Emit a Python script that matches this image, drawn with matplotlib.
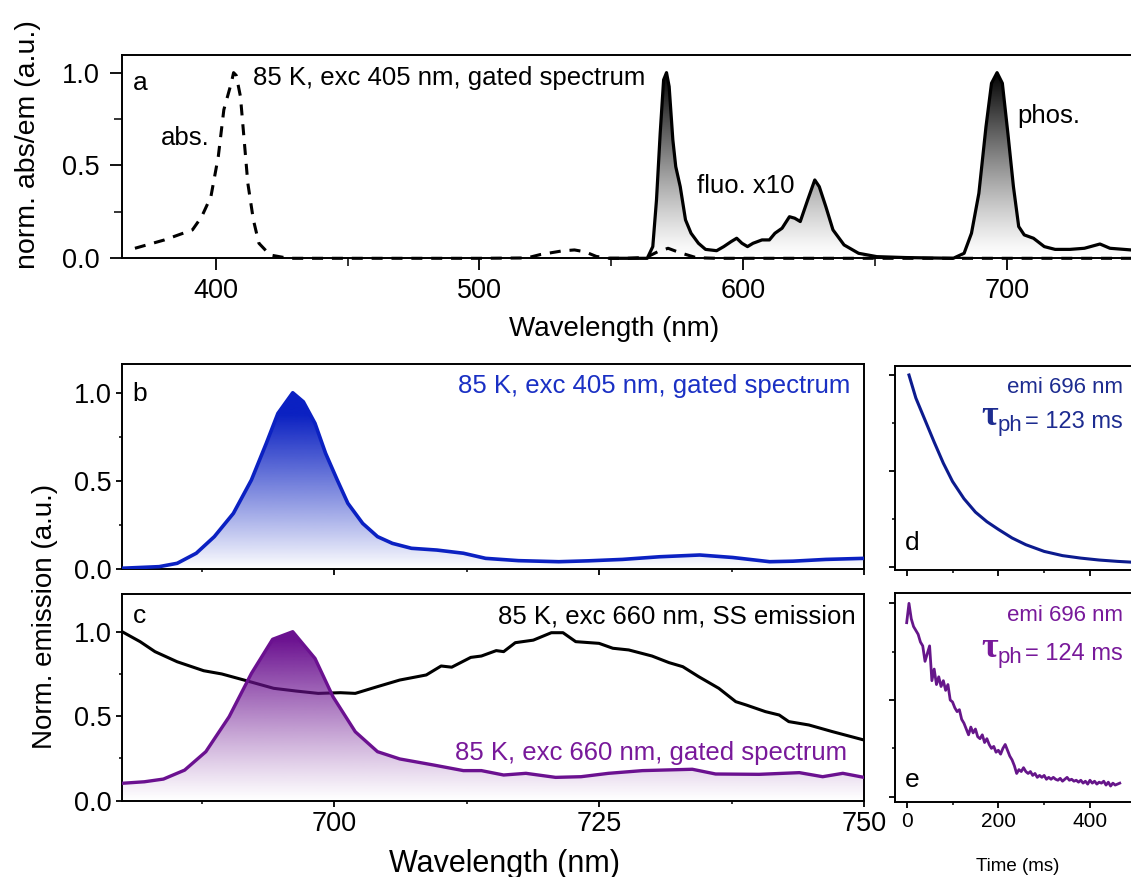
import numpy as np
import matplotlib
matplotlib.use("Agg")
import matplotlib.pyplot as plt
from matplotlib.colors import to_rgb
from matplotlib.patches import Polygon
from matplotlib.ticker import FixedLocator

# ---------------- data ----------------
# panel a : absorption (dashed) and gated emission (solid), wavelength in nm
abs_nm = [369.4, 380.6, 391.2, 394.7, 398.2, 401.0, 403.1, 405.9, 406.8, 407.8,
          409.4, 410.8, 412.2, 414.3, 416.4, 420.6, 427.6, 450.0, 500.0, 518.0,
          523.0, 531.4, 536.0, 540.0, 544.3, 549.1, 556.0, 563.3, 567.5, 571.5,
          576.0, 582.3, 590.0, 650.0, 700.0, 750.0]
abs_val = [0.054, 0.099, 0.153, 0.224, 0.332, 0.548, 0.80, 0.943, 1.0, 0.985,
           0.871, 0.638, 0.404, 0.207, 0.081, 0.018, 0.0, 0.0, 0.0, 0.002,
           0.02, 0.04, 0.045, 0.035, 0.01, 0.0, 0.0, 0.005, 0.035, 0.054,
           0.03, 0.003, 0.0, 0.0, 0.0, 0.0]

em_nm = [549.8, 563.6, 565.7, 567.1, 568.5, 569.8, 570.9, 571.9, 573.3, 574.4,
         576.1, 578.1, 580.2, 583.0, 585.7, 589.9, 592.6, 595.4, 597.5, 599.5,
         601.6, 603.7, 607.1, 609.9, 612.0, 614.7, 617.5, 619.5, 621.6, 624.4,
         627.1, 628.8, 631.3, 634.0, 638.2, 643.7, 650.6, 661.6, 679.6, 683.7,
         686.5, 689.3, 692.0, 694.1, 696.2, 698.2, 700.3, 702.4, 704.4, 706.5,
         710.0, 714.1, 718.2, 723.8, 729.3, 735.2, 739.0, 747.0, 750.0]
em_val = [0.0, 0.0, 0.063, 0.314, 0.673, 0.961, 1.0, 0.925, 0.638, 0.494,
          0.386, 0.207, 0.135, 0.081, 0.048, 0.041, 0.063, 0.09, 0.108, 0.081,
          0.063, 0.081, 0.099, 0.099, 0.135, 0.162, 0.224, 0.216, 0.198, 0.314,
          0.422, 0.386, 0.278, 0.153, 0.072, 0.027, 0.009, 0.004, 0.0, 0.027,
          0.135, 0.35, 0.709, 0.943, 1.0, 0.943, 0.673, 0.386, 0.171, 0.126,
          0.108, 0.063, 0.048, 0.048, 0.054, 0.077, 0.054, 0.045, 0.048]

# panel b : 85 K, exc 405 nm, gated spectrum
b_nm = [680.0, 683.5, 685.2, 687.0, 688.7, 690.5, 692.2, 693.6, 694.7, 696.1,
        697.1, 698.2, 699.2, 700.3, 701.3, 702.7, 704.1, 705.5, 707.3, 709.7,
        712.2, 714.3, 717.4, 721.2, 724.0, 727.2, 730.7, 734.5, 737.6, 741.1,
        743.3, 746.4, 750.0]
b_val = [0.006, 0.015, 0.034, 0.091, 0.185, 0.317, 0.506, 0.713, 0.883, 1.0,
         0.949, 0.827, 0.657, 0.506, 0.374, 0.26, 0.185, 0.147, 0.119, 0.109,
         0.091, 0.062, 0.049, 0.043, 0.048, 0.056, 0.071, 0.081, 0.067, 0.043,
         0.046, 0.056, 0.062]

# panel c : gated spectrum (purple) and steady-state emission (black)
cg_nm = [680.0, 682.1, 683.9, 685.9, 687.9, 690.1, 692.2, 694.2, 696.1, 698.2,
         699.9, 702.0, 704.1, 706.2, 709.4, 712.2, 713.9, 716.0, 718.1, 720.9,
         723.3, 725.9, 729.1, 733.8, 736.0, 740.1, 743.9, 746.1, 748.0, 750.0]
cg_val = [0.103, 0.112, 0.128, 0.181, 0.29, 0.497, 0.753, 0.955, 1.0, 0.842,
          0.615, 0.408, 0.29, 0.247, 0.211, 0.178, 0.178, 0.152, 0.162, 0.138,
          0.142, 0.162, 0.178, 0.186, 0.158, 0.156, 0.166, 0.142, 0.162, 0.138]

cs_nm = [680.0, 681.7, 683.1, 685.2, 687.7, 689.4, 691.5, 694.3, 696.4, 698.5,
         700.6, 702.0, 704.1, 706.2, 708.7, 710.1, 711.1, 712.9, 713.9, 715.3,
         716.0, 717.1, 718.8, 720.5, 721.6, 722.8, 725.0, 726.3, 727.8, 730.0,
         731.6, 732.9, 734.4, 736.3, 737.9, 738.9, 740.7, 742.0, 742.9, 744.8,
         747.0, 750.0]
cs_val = [1.0, 0.941, 0.882, 0.822, 0.769, 0.75, 0.714, 0.665, 0.649, 0.635,
          0.639, 0.635, 0.675, 0.714, 0.744, 0.797, 0.79, 0.848, 0.856, 0.888,
          0.882, 0.935, 0.95, 0.994, 0.994, 0.941, 0.931, 0.902, 0.892, 0.856,
          0.817, 0.793, 0.734, 0.665, 0.586, 0.566, 0.527, 0.507, 0.468, 0.448,
          0.409, 0.359]

# panel d : decay, emi 696 nm (exc 405)
d_t = [5, 20, 40, 60, 80, 100, 125, 150, 175, 200, 230, 260, 300, 340, 380,
       420, 460, 490]
d_val = [1.0, 0.88, 0.765, 0.65, 0.54, 0.445, 0.355, 0.285, 0.235, 0.195,
         0.15, 0.115, 0.08, 0.058, 0.045, 0.035, 0.028, 0.024]

# panel e : decay, emi 696 nm (exc 660), sampled every 5 ms from 0 ms
e_val = [0.90, 1.00, 0.92, 0.88, 0.86, 0.84, 0.80, 0.78, 0.70, 0.74,
         0.78, 0.60, 0.66, 0.58, 0.62, 0.57, 0.60, 0.55, 0.58, 0.50,
         0.49, 0.46, 0.44, 0.45, 0.40, 0.38, 0.35, 0.32, 0.36, 0.33,
         0.35, 0.31, 0.30, 0.32, 0.28, 0.30, 0.27, 0.25, 0.26, 0.23,
         0.24, 0.22, 0.25, 0.27, 0.24, 0.21, 0.19, 0.16, 0.12, 0.14,
         0.13, 0.15, 0.13, 0.12, 0.13, 0.11, 0.12, 0.10, 0.11, 0.10,
         0.11, 0.09, 0.10, 0.09, 0.10, 0.09, 0.085, 0.095, 0.08, 0.09,
         0.10, 0.085, 0.09, 0.08, 0.085, 0.075, 0.085, 0.07, 0.08, 0.065,
         0.085, 0.07, 0.08, 0.065, 0.075, 0.07, 0.08, 0.06, 0.075, 0.055,
         0.07, 0.06, 0.065, 0.07]
e_t = np.arange(len(e_val)) * 5.0

# ---------------- style ----------------
BLUE = '#0b21c2'
BLUE_T = '#1a30c4'
NAVY = '#0c1b8e'
NAVY_T = '#1d2c90'
PURPLE = '#6b1190'
PURPLE_E = '#66168a'
PURPLE_T = '#78199a'

FS_ANN = 18.5
FS_TICK = 19.5

plt.rcParams['font.family'] = ['Liberation Sans', 'DejaVu Sans']
plt.rcParams['axes.linewidth'] = 1.4

W, H = 1131, 877
fig = plt.figure(figsize=(W / 100, H / 100), dpi=100)


def add_ax(left, top, right, bottom):
    return fig.add_axes([left / W, 1 - bottom / H, (right - left) / W, (bottom - top) / H])


def gradient_fill(ax, x, y, color, gamma=1.0, scale=1.0, zorder=1):
    x = np.asarray(x, float)
    y = np.asarray(y, float)
    verts = np.vstack([[[x[0], 0.0]], np.column_stack([x, y]), [[x[-1], 0.0]]])
    poly = Polygon(verts, closed=True, facecolor='none', edgecolor='none',
                   transform=ax.transData)
    ax.add_patch(poly)
    v = np.linspace(0, 1, 512)
    rgba = np.zeros((512, 1, 4))
    rgba[..., :3] = to_rgb(color)
    rgba[:, 0, 3] = np.clip(v * scale, 0, 1) ** gamma
    im = ax.imshow(rgba, extent=[x[0], x[-1], 0, 1], origin='lower', aspect='auto',
                   interpolation='bilinear', zorder=zorder)
    im.set_clip_path(poly)


def style_ticks(ax, major_len, minor_len, labelsize, pad):
    ax.tick_params(which='major', direction='out', length=major_len, width=1.3,
                   labelsize=labelsize, pad=pad)
    ax.tick_params(which='minor', direction='out', length=minor_len, width=1.1)


def tau_label(ax, x, y, value, color):
    t_eq = ax.text(x, y, '= %s ms' % value, ha='right', va='baseline',
                   fontsize=17, color=color)
    t_ph = ax.annotate('ph', xy=(0, 0), xycoords=t_eq, xytext=(-2.0, -2.0),
                       textcoords='offset points', ha='right', va='bottom',
                       fontsize=16, color=color)
    ax.annotate('τ', xy=(0, 0), xycoords=t_ph, xytext=(0, 7.8),
                textcoords='offset points', ha='right', va='baseline',
                fontsize=26, fontweight='bold', color=color,
                family=['Liberation Serif', 'DejaVu Serif'])


# ---------------- panel a ----------------
axA = add_ax(122, 55, 1139, 258.3)
gradient_fill(axA, em_nm, em_val, 'black', gamma=1.2)
axA.plot(abs_nm, abs_val, color='black', lw=2.2, ls=(0, (3.6, 2.9)), zorder=3, clip_on=False)
axA.plot(em_nm, em_val, color='black', lw=2.3, zorder=4, clip_on=False)
axA.set_xlim(364.5, 750)
axA.set_ylim(0, 1.095)
axA.set_xticks([400, 500, 600, 700])
axA.xaxis.set_minor_locator(FixedLocator([450, 550, 650]))
axA.set_yticks([0, 0.5, 1.0])
axA.set_yticklabels(['0.0', '0.5', '1.0'])
axA.yaxis.set_minor_locator(FixedLocator([0.25, 0.75]))
style_ticks(axA, 8.5, 5.5, FS_TICK, 5.5)
axA.tick_params(axis='y', pad=7.5)
axA.set_xlabel('Wavelength (nm)', fontsize=20, va='baseline')
axA.xaxis.set_label_coords(0.484, -0.382)
axA.set_ylabel('norm. abs/em (a.u.)', fontsize=20.5, va='center', ha='center',
               rotation=90, rotation_mode='default')
axA.yaxis.set_label_coords((27.7 - 122) / 1017, (258.3 - 145) / 203.3)
axA.text(368.6, 0.907, 'a', fontsize=19, ha='left', va='baseline')
axA.text(414.3, 0.934, '85 K, exc 405 nm, gated spectrum', fontsize=FS_ANN,
         ha='left', va='baseline')
axA.text(379.3, 0.61, 'abs.', fontsize=FS_ANN, ha='left', va='baseline')
axA.text(582.4, 0.35, 'fluo. x10', fontsize=FS_ANN, ha='left', va='baseline')
axA.text(703.8, 0.728, 'phos.', fontsize=FS_ANN, ha='left', va='baseline')

# ---------------- panel b ----------------
axB = add_ax(122.1, 364, 864, 569.3)
gradient_fill(axB, b_nm, b_val, BLUE, gamma=0.95, scale=1.15)
axB.plot(b_nm, b_val, color=BLUE, lw=2.6, zorder=4)
axB.set_xlim(680, 750)
axB.set_ylim(0, 1.163)
axB.set_xticks([700, 725, 750])
axB.xaxis.set_minor_locator(FixedLocator([687.5, 712.5, 737.5]))
axB.tick_params(axis='x', labelbottom=False)
axB.set_yticks([0, 0.5, 1.0])
axB.set_yticklabels(['0.0', '0.5', '1.0'])
axB.yaxis.set_minor_locator(FixedLocator([0.25, 0.75]))
style_ticks(axB, 4.5, 2.5, FS_TICK, 3)
axB.text(681.0, 0.955, 'b', fontsize=19, ha='left', va='baseline')
axB.text(748.7, 0.997, '85 K, exc 405 nm, gated spectrum', fontsize=FS_ANN,
         ha='right', va='baseline', color=BLUE_T)

# ---------------- panel c ----------------
axC = add_ax(122.1, 594, 864, 800.7)
axC.plot(cs_nm, cs_val, color='black', lw=2.2, zorder=2)
gradient_fill(axC, cg_nm, cg_val, PURPLE, gamma=1.1, scale=1.05, zorder=3)
axC.plot(cg_nm, cg_val, color=PURPLE, lw=2.4, zorder=4)
axC.set_xlim(680, 750)
axC.set_ylim(0, 1.223)
axC.set_xticks([700, 725, 750])
axC.xaxis.set_minor_locator(FixedLocator([687.5, 712.5, 737.5]))
axC.set_yticks([0, 0.5, 1.0])
axC.set_yticklabels(['0.0', '0.5', '1.0'])
axC.yaxis.set_minor_locator(FixedLocator([0.25, 0.75]))
style_ticks(axC, 4.5, 2.5, FS_TICK, 3)
axC.set_xlabel('Wavelength (nm)', fontsize=22, va='baseline')
axC.xaxis.set_label_coords(0.516, -0.3435)
axC.set_ylabel('Norm. emission (a.u.)', fontsize=20, va='center', ha='center',
               rotation=90, rotation_mode='default')
axC.yaxis.set_label_coords((45 - 122.1) / 741.9, 0.8936)
axC.text(681.0, 1.051, 'c', fontsize=19, ha='left', va='baseline')
axC.text(749.2, 1.05, '85 K, exc 660 nm, SS emission', fontsize=FS_ANN,
         ha='right', va='baseline', color='black')
axC.text(748.4, 0.241, '85 K, exc 660 nm, gated spectrum', fontsize=FS_ANN,
         ha='right', va='baseline', color=PURPLE_T)

# ---------------- panel d ----------------
axD = add_ax(895, 366, 1135.8, 570)
axD.plot(d_t, d_val, color=NAVY, lw=2.2)
axD.set_xlim(-25.5, 500)
axD.set_ylim(-0.017, 1.047)
axD.set_xticks([0, 200, 400])
axD.xaxis.set_minor_locator(FixedLocator([100, 300]))
axD.set_yticks([0, 0.5, 1.0])
axD.yaxis.set_minor_locator(FixedLocator([0.25, 0.75]))
axD.tick_params(axis='both', labelbottom=False, labelleft=False)
style_ticks(axD, 4.5, 2.5, 15, 3)
axD.text(-3.7, 0.087, 'd', fontsize=19, ha='left', va='baseline')
axD.text(472, 0.907, 'emi 696 nm', fontsize=16, ha='right', va='baseline', color=NAVY_T)
tau_label(axD, 472, 0.725, '123', NAVY_T)

# ---------------- panel e ----------------
axE = add_ax(895, 593.3, 1135.8, 801.7)
axE.plot(e_t, e_val, color=PURPLE_E, lw=2.0)
axE.set_xlim(-25.5, 500)
axE.set_ylim(-0.026, 1.052)
axE.set_xticks([0, 200, 400])
axE.xaxis.set_minor_locator(FixedLocator([100, 300]))
axE.set_yticks([0, 0.5, 1.0])
axE.yaxis.set_minor_locator(FixedLocator([0.25, 0.75]))
axE.tick_params(axis='y', labelleft=False)
style_ticks(axE, 4.5, 2.5, 15, 3)
axE.set_xlabel('Time (ms)', fontsize=13.5, va='baseline')
axE.xaxis.set_label_coords(0.509, -0.3325)
axE.text(-3.7, 0.052, 'e', fontsize=19, ha='left', va='baseline')
axE.text(472, 0.908, 'emi 696 nm', fontsize=16, ha='right', va='baseline', color=PURPLE_T)
tau_label(axE, 472, 0.708, '124', PURPLE_T)

fig.savefig('out.png', dpi=100)
